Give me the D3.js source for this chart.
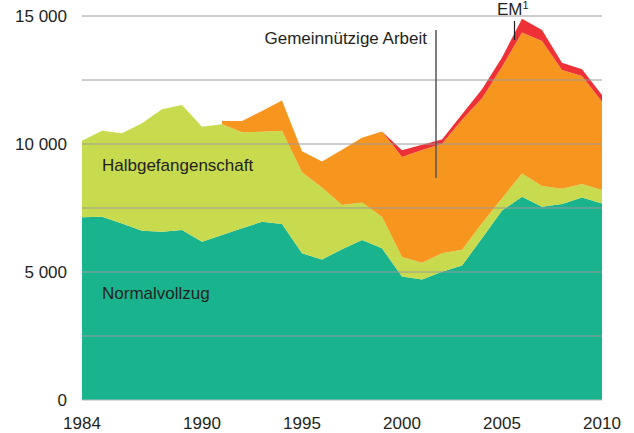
<!DOCTYPE html>
<html>
<head>
<meta charset="utf-8">
<script src="https://cdn.jsdelivr.net/npm/d3@7"></script>
<style>
  body { margin: 0; background: #fff; }
  svg text { font-family: "Liberation Sans", Arial, sans-serif; fill: #231f20; }
</style>
</head>
<body>
<svg id="chart" width="634" height="433"></svg>
<script>
//------------------------------------------------------------------------------
//Data
//------------------------------------------------------------------------------
var years = [1984, 1985, 1986, 1987, 1988, 1989, 1990, 1991, 1992, 1993, 1994, 1995, 1996, 1997,
             1998, 1999, 2000, 2001, 2002, 2003, 2004, 2005, 2006, 2007, 2008, 2009, 2010];

var normalvollzug = [7140, 7160, 6890, 6615, 6575, 6640, 6185, 6445, 6705, 6965, 6875, 5730, 5490, 5885,
                     6250, 5925, 4820, 4710, 5010, 5250, 6320, 7400, 7940, 7550, 7655, 7915, 7680];

var halbgefangenschaft = [2990, 3360, 3530, 4195, 4780, 4885, 4490, 4325, 3750, 3515, 3640, 3170, 2810, 1730,
                          1460, 1235, 765, 655, 720, 620, 580, 480, 910, 810, 600, 520, 525];

var gemeinnuetzig = [null, null, null, null, null, null, null, 130, 445, 810, 1180, 815, 1020, 2165,
                     2530, 3330, 3905, 4400, 4280, 5080, 4885, 5140, 5505, 5665, 4635, 4220, 3450];

var em = [null, null, null, null, null, null, null, null, null, null, null, null, null, null,
          null, 0, 270, 210, 170, 215, 350, 360, 540, 430, 285, 265, 260];

var yTicks = [0, 5000, 10000, 15000];
var gridValues = [2500, 5000, 7500, 10000, 12500, 15000];
var xTicks = [1984, 1990, 1995, 2000, 2005, 2010];

//------------------------------------------------------------------------------
//Chart
//------------------------------------------------------------------------------
var svg = d3.select("#chart");
var plotLeft = 82, plotRight = 602, plotTop = 16, plotBottom = 400;

var x = d3.scaleLinear().domain([1984, 2010]).range([plotLeft, plotRight]);
var y = d3.scaleLinear().domain([0, 15000]).range([plotBottom, plotTop]);

var series = [
  { key: "normal", values: normalvollzug, color: "#19b48e" },
  { key: "halb", values: halbgefangenschaft, color: "#c8da4d" },
  { key: "gem", values: gemeinnuetzig, color: "#f7961f" },
  { key: "em", values: em, color: "#ee3136" }
];

var rows = years.map(function (yr, i) {
  var r = { year: yr };
  series.forEach(function (s) { r[s.key] = s.values[i]; });
  return r;
});

var stack = d3.stack()
  .keys(series.map(function (s) { return s.key; }))
  .value(function (d, k) { return d[k] == null ? 0 : d[k]; });

var stacked = stack(rows);

stacked.forEach(function (layer, li) {
  var s = series[li];
  var area = d3.area()
    .defined(function (d) { return d.data[s.key] != null; })
    .x(function (d) { return x(d.data.year); })
    .y0(function (d) { return y(d[0]); })
    .y1(function (d) { return y(d[1]); });

  svg.append("path")
    .datum(layer)
    .attr("fill", s.color)
    .attr("d", area);
});

// grid lines on top of the areas
svg.append("g")
  .selectAll("line")
  .data(gridValues)
  .enter()
  .append("line")
  .attr("x1", plotLeft)
  .attr("x2", plotRight)
  .attr("y1", function (d) { return y(d); })
  .attr("y2", function (d) { return y(d); })
  .attr("stroke", "#9a9a9a")
  .attr("stroke-width", 1);

svg.append("line")
  .attr("x1", plotLeft).attr("x2", plotRight)
  .attr("y1", y(0)).attr("y2", y(0))
  .attr("stroke", "#b8b8b8")
  .attr("stroke-width", 1);

// y axis labels
svg.append("g")
  .selectAll("text")
  .data(yTicks)
  .enter()
  .append("text")
  .attr("x", 67)
  .attr("y", function (d) { return y(d) + 6; })
  .attr("text-anchor", "end")
  .attr("font-size", "17px")
  .text(function (d) { return d3.format(",")(d).replace(/,/g, " "); });

// x axis labels
svg.append("g")
  .selectAll("text")
  .data(xTicks)
  .enter()
  .append("text")
  .attr("x", function (d) { return x(d); })
  .attr("y", 429)
  .attr("text-anchor", "middle")
  .attr("font-size", "17px")
  .text(function (d) { return d; });

// series labels
svg.append("text")
  .attr("x", 102).attr("y", 299)
  .attr("font-size", "17px")
  .text("Normalvollzug");

svg.append("text")
  .attr("x", 102).attr("y", 171)
  .attr("font-size", "17px")
  .text("Halbgefangenschaft");

svg.append("text")
  .attr("x", 427).attr("y", 44)
  .attr("text-anchor", "end")
  .attr("font-size", "17px")
  .text("Gemeinnützige Arbeit");

svg.append("line")
  .attr("x1", 436).attr("x2", 436)
  .attr("y1", 30).attr("y2", 178)
  .attr("stroke", "#555")
  .attr("stroke-width", 1.5);

var emText = svg.append("text")
  .attr("x", 497).attr("y", 15)
  .attr("font-size", "17px")
  .text("EM");
emText.append("tspan")
  .attr("dy", -6)
  .attr("font-size", "11px")
  .text("1");

svg.append("line")
  .attr("x1", 514.5).attr("x2", 514.5)
  .attr("y1", 21).attr("y2", 40)
  .attr("stroke", "#231f20")
  .attr("stroke-width", 1.2);
</script>
</body>
</html>
